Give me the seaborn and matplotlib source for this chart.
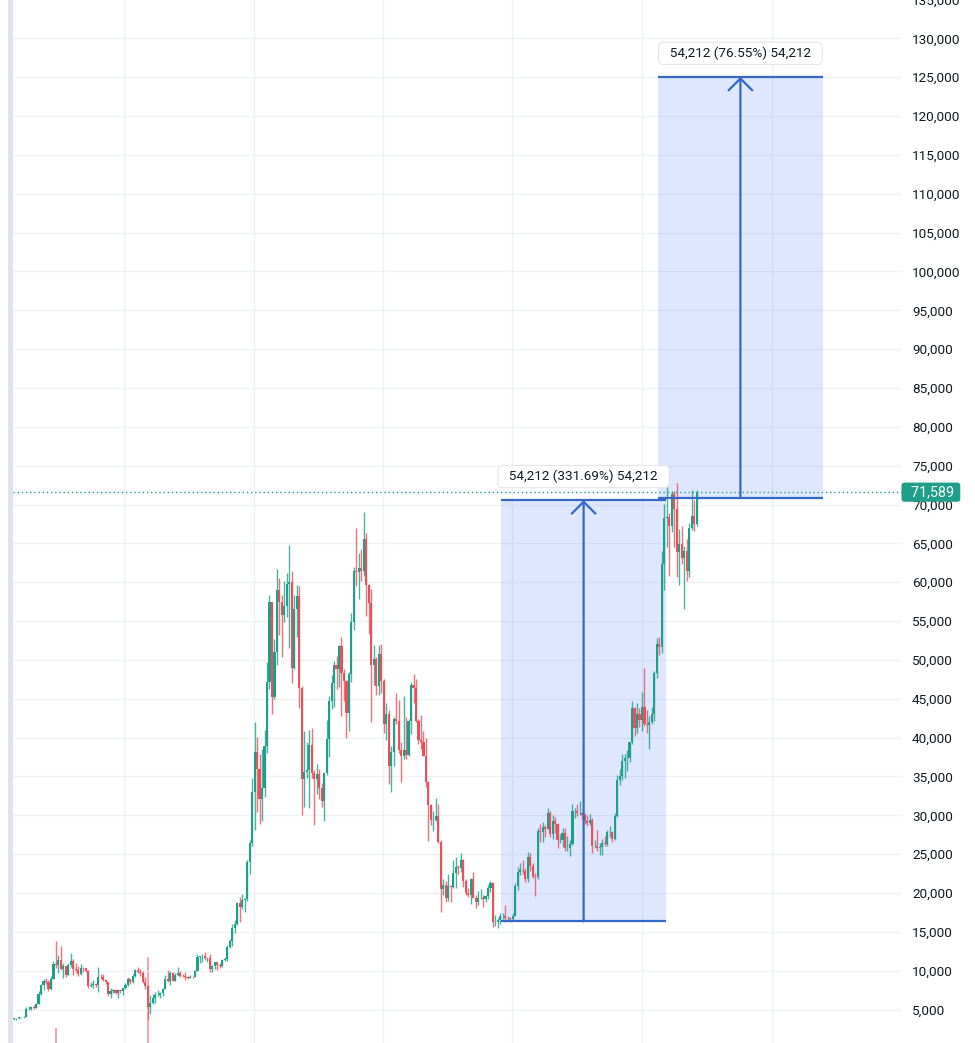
import matplotlib
matplotlib.use("Agg")
import matplotlib.pyplot as plt
import matplotlib.dates as mdates
from matplotlib import ticker
from matplotlib.patches import Rectangle
import numpy as np
import pandas as pd
import seaborn as sns

# Weekly BTC/USD candles, first week starts Monday 2019-02-25 (open = previous close)
first_open = 3820

close_2019 = [3860, 3920, 4000, 4020, 4100, 5040, 5070, 5300, 5250, 5750, 6960, 8200, 8740, 8550, 7660,
              8990, 10850, 10800, 11400, 10200, 10600, 9500, 10800, 11300, 10230, 10130, 9600, 10400, 10300,
              10000, 8050, 8150, 8280, 8220, 9250, 9200, 8800, 8500, 7050, 7400, 7500, 7100, 7500, 7400, 7750]
high_2019 = [3950, 3960, 4060, 4090, 4150, 5340, 5470, 5350, 5640, 5900, 7450, 8330, 8940, 9090, 8790,
             9300, 11200, 13880, 12000, 13200, 11000, 10670, 11000, 12300, 11500, 10950, 10650, 10900, 10450,
             10400, 10100, 8500, 8800, 8400, 10500, 9560, 9520, 8900, 8500, 7800, 7600, 7650, 7500, 7700, 7800]
low_2019 = [3700, 3720, 3830, 3880, 3940, 4090, 4930, 4980, 5040, 5150, 5700, 6870, 7500, 8240, 7450,
            7520, 8940, 10300, 9700, 10100, 9100, 9200, 9400, 10500, 9500, 9800, 9330, 9500, 9900,
            9800, 7750, 7900, 7800, 7880, 7300, 8960, 8700, 8350, 6800, 6500, 7100, 7030, 6450, 7100, 6900]

close_2020 = [8200, 8900, 8600, 9380, 10150, 9900, 9700, 8540, 8030, 5360, 5830, 6430, 6860, 6900, 7100,
              7690, 8900, 8720, 9670, 8720, 9450, 9670, 9340, 9300, 9140, 9090, 9230, 9160, 9930, 11800,
              11900, 11900, 11650, 11700, 10280, 10670, 11080, 10770, 10670, 11380, 11500, 13030, 13800,
              15480, 16070, 18660, 18180, 19150, 19170, 24000, 26490, 33000]
high_2020 = [8450, 9190, 8930, 9600, 10160, 10500, 10250, 9970, 9180, 8180, 6900, 6980, 7200, 7470, 7300,
             7750, 9460, 10070, 9950, 9900, 9740, 10430, 9990, 9600, 9800, 9320, 9470, 9340, 10100, 12100,
             11900, 12100, 12470, 11760, 12090, 10700, 11180, 11180, 10950, 11500, 11720, 13350, 14090,
             15960, 16470, 18800, 19480, 19920, 19420, 24300, 26800, 34800]
low_2020 = [7670, 8100, 8280, 8480, 9150, 9700, 9300, 8450, 7630, 3850, 4450, 5680, 5860, 6770, 6470,
            6800, 7630, 8600, 8200, 8700, 8630, 9280, 9240, 9180, 8840, 8950, 9060, 9050, 9140, 9920,
            10950, 11150, 11380, 11100, 9900, 9860, 10200, 10140, 10400, 10530, 11200, 11300, 12890,
            13210, 14850, 15900, 16300, 18000, 17600, 19000, 22400, 26000]

close_2021 = [38200, 36000, 32100, 33500, 38900, 47100, 57400, 45200, 51000, 59000, 57500, 55800, 57000,
              59800, 60000, 49000, 56600, 58200, 46400, 34700, 35600, 35800, 39100, 35500, 34700, 35300,
              33500, 31800, 35400, 39800, 44700, 47000, 49300, 48800, 51800, 48300, 47300, 43200, 48200,
              54900, 61500, 61300, 61800, 61500, 65500, 59700, 57300, 49400, 50100, 46700, 50800, 47300]
high_2021 = [41950, 40100, 37850, 38500, 40950, 49700, 58350, 57500, 52650, 61700, 60600, 58400, 60100,
             61200, 64850, 61500, 58400, 59600, 59500, 46650, 40850, 39500, 40950, 41300, 35800, 36600,
             35900, 34100, 35400, 42300, 45300, 48100, 49800, 50500, 51900, 52900, 48800, 47400, 48500,
             56100, 62000, 67000, 63700, 64300, 69000, 66300, 59800, 59100, 51900, 50400, 51900, 52100]
low_2021 = [28100, 30400, 28850, 29250, 32300, 38000, 46200, 43000, 44950, 49300, 53200, 50400, 54900,
            55500, 51500, 47000, 48800, 53000, 43800, 30000, 31100, 34800, 31000, 34800, 28800, 32700,
            32100, 31100, 29300, 35200, 37500, 43700, 43900, 46300, 46500, 42800, 44700, 40000, 40900,
            47100, 53800, 59500, 57800, 60100, 60800, 55600, 53300, 42000, 46800, 45500, 45500, 45700]

close_2022 = [41800, 43100, 36300, 38200, 42400, 42200, 38400, 37700, 38400, 37800, 42200, 46800, 46400,
              42200, 39700, 39500, 37700, 34300, 31300, 29400, 29400, 29900, 26600, 20500, 21000, 19300,
              20900, 20800, 22600, 23300, 23200, 24300, 21500, 20000, 19800, 21800, 19400, 18900, 19300,
              19400, 19200, 19600, 20600, 21300, 16300, 16300, 16500, 17100, 17100, 16800, 16800, 16600]
high_2022 = [47600, 44500, 43500, 38900, 42600, 45800, 44800, 39500, 45400, 42600, 42400, 47100, 48200,
             47500, 42400, 42900, 40800, 40000, 34400, 31500, 30600, 32200, 31500, 26800, 21800, 21500,
             22400, 21000, 24200, 24600, 23600, 25200, 24400, 21800, 20600, 21900, 22700, 19700, 20300,
             20500, 19700, 19700, 21000, 21500, 21400, 17200, 16800, 17400, 17400, 18400, 17000, 16900]
low_2022 = [40600, 39700, 34000, 33000, 36300, 41800, 38000, 34300, 37200, 37200, 37600, 40500, 44400,
            42000, 39200, 38600, 37600, 33700, 26700, 28700, 28000, 29300, 26500, 17600, 19700, 18800,
            19000, 18900, 20600, 20700, 22400, 22700, 20800, 19800, 19500, 18600, 19300, 18100, 18500,
            19200, 18200, 18900, 19200, 20100, 15600, 15800, 15500, 16000, 16700, 16300, 16400, 16300]

close_2023 = [17100, 20900, 22700, 23000, 22900, 21800, 24600, 23500, 22100, 22000, 28000, 27900, 28500,
              28300, 30300, 27600, 29300, 28900, 26800, 26800, 27700, 25800, 25800, 26300, 30500, 30600,
              30300, 30300, 30100, 29300, 29000, 29400, 26100, 26100, 25800, 25900, 26500, 26300, 27900,
              27900, 26900, 29900, 34500, 35000, 37000, 37400, 37400, 39400, 43800, 41300, 43000, 42300]
high_2023 = [17400, 21300, 23400, 23900, 24200, 23200, 25250, 25100, 23900, 22600, 28400, 28900, 29200,
             28800, 31000, 30500, 30000, 29800, 29000, 27600, 28400, 28400, 27400, 26800, 31400, 31000,
             31400, 31800, 30400, 30300, 30000, 30200, 29700, 26800, 28100, 26400, 27000, 27400, 28100,
             28600, 28000, 30300, 35200, 35900, 37900, 37900, 38400, 39500, 44700, 44000, 44400, 43800]
low_2023 = [16500, 17000, 20400, 22300, 22500, 21400, 21400, 22800, 21900, 19600, 21800, 26600, 26600,
            27200, 28200, 27200, 26900, 27700, 25800, 26400, 25900, 25400, 25400, 24800, 26200, 29600,
            29900, 30000, 29500, 28900, 28600, 28800, 25200, 25800, 25400, 24900, 24900, 26000, 26000,
            27200, 26600, 26800, 29800, 33900, 34600, 34800, 35700, 36800, 39200, 40200, 40600, 41400]

close_2024 = [43900, 41700, 41600, 42000, 43000, 48300, 52100, 51700, 62400, 68300, 68400, 67200, 71300,
              69400, 63900, 64900, 63100, 64000, 61500, 67000, 68500, 67500, 71589]
high_2024 = [45900, 48900, 43500, 42800, 43900, 48600, 52800, 52900, 64000, 70100, 73800, 68900, 71700,
             71800, 72800, 66800, 67200, 64700, 65500, 67600, 71900, 70600, 71900]
low_2024 = [40800, 41500, 40600, 38500, 41800, 42200, 47700, 50600, 50900, 59000, 64500, 60800, 66500,
            64500, 60700, 59600, 62400, 56500, 60200, 60700, 66700, 66600, 67300]

# volume peaks that reach up into the visible pane
vol_weeks = ["2019-06-24", "2020-03-09"]
vol_values = [2.6, 14.8]

# measure tool: start/end dates and price range
measure_start = ["2022-11-30", "2024-02-15"]
measure_end = ["2024-03-09", "2025-05-25"]
measure_from = [16344, 70819]
measure_to = [70556, 125031]

last_price = 71589
year_lines = ["2020-01-01", "2021-01-01", "2022-01-01", "2023-01-01", "2024-01-01", "2025-01-01"]
y_ticks = list(range(5000, 135000, 5000))

close = close_2019 + close_2020 + close_2021 + close_2022 + close_2023 + close_2024
high = high_2019 + high_2020 + high_2021 + high_2022 + high_2023 + high_2024
low = low_2019 + low_2020 + low_2021 + low_2022 + low_2023 + low_2024

df = pd.DataFrame({
    "date": pd.date_range("2019-02-25", periods=len(close), freq="7D"),
    "open": [first_open] + close[:-1],
    "high": high,
    "low": low,
    "close": close,
})

UP = "#1f9e89"
DOWN = "#e8505b"
BLUE = "#3566c8"
TEXT = "#131722"
FS = 9.7

sns.set_theme(style="white")
plt.rcParams['font.family'] = ['Roboto', 'DejaVu Sans']

fig = plt.figure(figsize=(9.75, 10.43), dpi=100)
ax = fig.add_axes([13 / 975, 0, 889 / 975, 1])

# thin grey strip at the left edge of the screen
fig.add_artist(Rectangle((8 / 975, 0), 5 / 975, 1, transform=fig.transFigure,
                         color="#e0e3eb", lw=0, zorder=0))

x = mdates.date2num(df["date"])
up = df["close"] >= df["open"]
body_col = np.where(up, UP, DOWN)

# volume (only the tallest bars are visible)
axv = ax.twinx()
axv.set_ylim(0, 180)
axv.bar(mdates.date2num(pd.to_datetime(vol_weeks)), vol_values, width=5, color=DOWN, alpha=0.5, lw=0)
axv.axis("off")
axv.set_zorder(ax.get_zorder() - 1)
ax.patch.set_visible(False)

# candles
ax.vlines(x, df["low"], df["high"], colors=body_col, lw=1.0, alpha=0.8, zorder=3)
ax.bar(x, df["close"] - df["open"], bottom=df["open"], width=6.0, color=body_col, lw=0, zorder=3.5)

# measure boxes
for s, e, lo, hi in zip(measure_start, measure_end, measure_from, measure_to):
    xs = mdates.date2num(pd.Timestamp(s))
    xe = mdates.date2num(pd.Timestamp(e))
    xm = (xs + xe) / 2
    ax.fill_between([xs, xe], lo, hi, color="#2962ff", alpha=0.15, lw=0, zorder=1)
    ax.hlines([lo, hi], xs, xe, color=BLUE, lw=1.6, zorder=5)
    ax.annotate("", xy=(xm, hi), xytext=(xm, lo),
                arrowprops=dict(arrowstyle="->,head_length=0.85,head_width=0.85", color=BLUE, lw=1.6,
                                shrinkA=0, shrinkB=0, mutation_scale=10), zorder=5)
    diff = hi - lo
    pct = diff / lo * 100
    label = f"{diff:,.0f} ({pct:.2f}%) {diff:,.0f}"
    ax.annotate("  " + label + "  ", xy=(xm, hi), xytext=(0, 17), textcoords="offset points",
                ha="center", va="center", fontsize=FS, color=TEXT, zorder=6,
                bbox=dict(boxstyle="round,pad=0.33,rounding_size=0.35", fc="white", ec="#e3e5ea", lw=0.8))

# last price line and label
ax.axhline(last_price, color=UP, lw=1.0, ls=(0, (1, 2)), zorder=4)
ax.annotate(f"  {last_price:,} ", xy=(1, last_price), xycoords=("axes fraction", "data"),
            xytext=(1.5, 0), textcoords="offset points", ha="left", va="center",
            fontsize=FS + 0.6, color="white", annotation_clip=False, zorder=7,
            bbox=dict(boxstyle="round,pad=0.18,rounding_size=0.2", fc=UP, ec="none"))

# axes, grid, price scale
ax.set_xlim(mdates.date2num(pd.Timestamp("2019-02-23")), mdates.date2num(pd.Timestamp("2026-01-03")))
ax.set_ylim(700, 134930)
ax.set_xticks(mdates.date2num(pd.to_datetime(year_lines)))
ax.set_yticks(y_ticks)
ax.set_axisbelow(True)
ax.grid(True, color="#eff1f4", lw=1.0)
ax.tick_params(axis="x", bottom=False, labelbottom=False)
ax.yaxis.tick_right()
ax.tick_params(axis="y", length=0, pad=7.2, labelsize=FS, labelcolor=TEXT)
ax.yaxis.set_major_formatter(ticker.FuncFormatter(lambda v, p: f"{v:,.0f}"))
for sp in ax.spines.values():
    sp.set_visible(False)

# top tick label is cut by the screen edge
ax.annotate("135,000", xy=(1, 135000), xycoords=("axes fraction", "data"), xytext=(7.2, 0),
            textcoords="offset points", ha="left", va="center_baseline", fontsize=FS, color=TEXT,
            annotation_clip=False)

fig.savefig("out.png", dpi=100)
